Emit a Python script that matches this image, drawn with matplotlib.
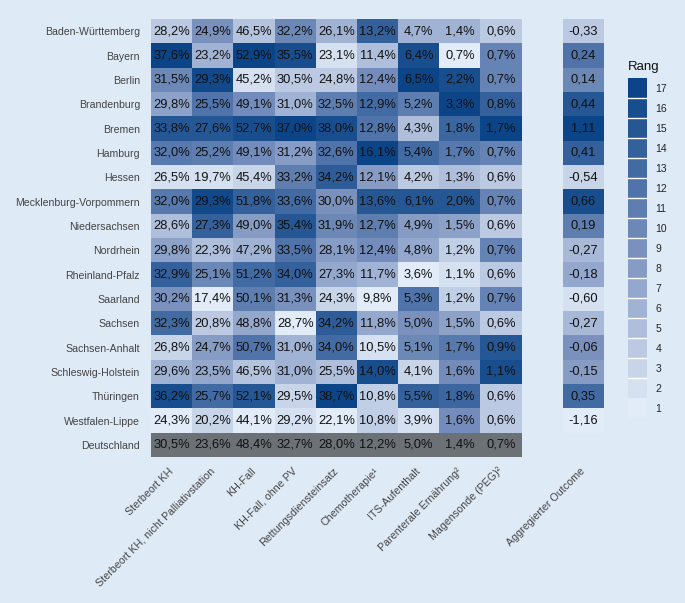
import numpy as np
import pandas as pd
import matplotlib
matplotlib.use('Agg')
import matplotlib.pyplot as plt
from matplotlib.colors import LinearSegmentedColormap

plt.rcParams['font.family'] = ['Liberation Sans', 'DejaVu Sans']

bg = '#dfeaf7'
grau = '#6c7176'

regionen = ['Baden-Württemberg', 'Bayern', 'Berlin', 'Brandenburg', 'Bremen', 'Hamburg',
            'Hessen', 'Mecklenburg-Vorpommern', 'Niedersachsen', 'Nordrhein',
            'Rheinland-Pfalz', 'Saarland', 'Sachsen', 'Sachsen-Anhalt',
            'Schleswig-Holstein', 'Thüringen', 'Westfalen-Lippe']

spalten = ['Sterbeort KH', 'Sterbeort KH, nicht Palliativstation', 'KH-Fall',
           'KH-Fall, ohne PV', 'Rettungsdiensteinsatz', 'Chemotherapie¹',
           'ITS-Aufenthalt', 'Parenterale Ernährung²', 'Magensonde (PEG)²']

# Werte je Indikator (KVen); Deutschland separat
sterbeort_kh = [28.2, 37.6, 31.5, 29.8, 33.8, 32.0, 26.5, 32.0, 28.6, 29.8, 32.9, 30.2, 32.3, 26.8, 29.6, 36.2, 24.3]
nicht_palliativ = [24.9, 23.2, 29.3, 25.5, 27.6, 25.2, 19.7, 29.3, 27.3, 22.3, 25.1, 17.4, 20.8, 24.7, 23.5, 25.7, 20.2]
kh_fall = [46.5, 52.9, 45.2, 49.1, 52.7, 49.1, 45.4, 51.8, 49.0, 47.2, 51.2, 50.1, 48.8, 50.7, 46.5, 52.1, 44.1]
kh_ohne_pv = [32.2, 35.5, 30.5, 31.0, 37.0, 31.2, 33.2, 33.6, 35.4, 33.5, 34.0, 31.3, 28.7, 31.0, 31.0, 29.5, 29.2]
rettung = [26.1, 23.1, 24.8, 32.5, 38.0, 32.6, 34.2, 30.0, 31.9, 28.1, 27.3, 24.3, 34.2, 34.0, 25.5, 38.7, 22.1]
chemo = [13.2, 11.4, 12.4, 12.9, 12.8, 16.1, 12.1, 13.6, 12.7, 12.4, 11.7, 9.8, 11.8, 10.5, 14.0, 10.8, 10.8]
its = [4.7, 6.4, 6.5, 5.2, 4.3, 5.4, 4.2, 6.1, 4.9, 4.8, 3.6, 5.3, 5.0, 5.1, 4.1, 5.5, 3.9]
parenteral = [1.4, 0.7, 2.2, 3.3, 1.8, 1.7, 1.3, 2.0, 1.5, 1.2, 1.1, 1.2, 1.5, 1.7, 1.6, 1.8, 1.6]
magensonde = [0.6, 0.7, 0.7, 0.8, 1.7, 0.7, 0.6, 0.7, 0.6, 0.7, 0.6, 0.7, 0.6, 0.9, 1.1, 0.6, 0.6]
deutschland = [30.5, 23.6, 48.4, 32.7, 28.0, 12.2, 5.0, 1.4, 0.7]

aggregiert = [-0.33, 0.24, 0.14, 0.44, 1.11, 0.41, -0.54, 0.66, 0.19, -0.27, -0.18, -0.60, -0.27, -0.06, -0.15, 0.35, -1.16]

df = pd.DataFrame(dict(zip(spalten, [sterbeort_kh, nicht_palliativ, kh_fall, kh_ohne_pv, rettung,
                                     chemo, its, parenteral, magensonde])), index=regionen)
df['Aggregierter Outcome'] = aggregiert
rang = df.rank(method='average')   # Rang 1 = niedrigster Wert

cmap = LinearSegmentedColormap.from_list('rang', ['#e2ecf8', '#7b92bf', '#0b4588'])

n_zeilen = len(regionen) + 1
n_spalten = len(spalten) + 2   # leere Spalte vor dem aggregierten Outcome
img = np.zeros((n_zeilen, n_spalten, 4))
for j, s in enumerate(spalten):
    for i in range(len(regionen)):
        img[i, j] = cmap((rang[s].iloc[i] - 1) / 16)
    img[-1, j] = matplotlib.colors.to_rgba(grau)
for i in range(len(regionen)):
    img[i, -1] = cmap((rang['Aggregierter Outcome'].iloc[i] - 1) / 16)

fig = plt.figure(figsize=(6.85, 6.03), dpi=100, facecolor=bg)
ax = fig.add_axes([151 / 685, 1 - 457 / 603, 453 / 685, 438 / 603])
ax.set_facecolor(bg)
ax.imshow(img, aspect='auto', interpolation='nearest')

for j, s in enumerate(spalten):
    werte = list(df[s]) + [deutschland[j]]
    for i, v in enumerate(werte):
        ax.text(j, i, ('%.1f%%' % v).replace('.', ','), ha='center', va='center',
                fontsize=9.3, color='#111111')
for i, v in enumerate(aggregiert):
    ax.text(n_spalten - 1, i, ('%.2f' % v).replace('.', ','), ha='center', va='center',
            fontsize=9.3, color='#111111')

ax.set_yticks(range(n_zeilen))
ax.set_yticklabels(regionen + ['Deutschland'], fontsize=7.6, color='#444444')
xpos = list(range(len(spalten))) + [n_spalten - 1]
ax.set_xticks(xpos)
ax.set_xticklabels(spalten + ['Aggregierter Outcome'], rotation=45, ha='right', va='center',
                   rotation_mode='anchor', fontsize=7.7, color='#444444')
ax.tick_params(axis='y', length=0, pad=8)
ax.tick_params(axis='x', length=0, pad=9)
for sp in ax.spines.values():
    sp.set_visible(False)

# Legende
lax = fig.add_axes([628 / 685, 1 - 418 / 603, 19 / 685, 340 / 603])
raenge = np.arange(17, 0, -1)
lax.imshow(raenge[:, None], cmap=cmap, vmin=1, vmax=17, aspect='auto', interpolation='nearest')
for k in range(1, 16):
    lax.axhline(k - 0.5, color='white', lw=1)
lax.set_xticks([])
lax.yaxis.tick_right()
lax.set_yticks(range(17))
lax.set_yticklabels([str(r) for r in raenge], fontsize=7.5, color='#222222')
lax.tick_params(axis='y', length=0, pad=6)
for sp in lax.spines.values():
    sp.set_visible(False)
fig.text(628 / 685, 1 - 67 / 603, 'Rang', fontsize=9.5, color='#111111', ha='left', va='center')

fig.savefig('out.png', dpi=100, facecolor=bg)
